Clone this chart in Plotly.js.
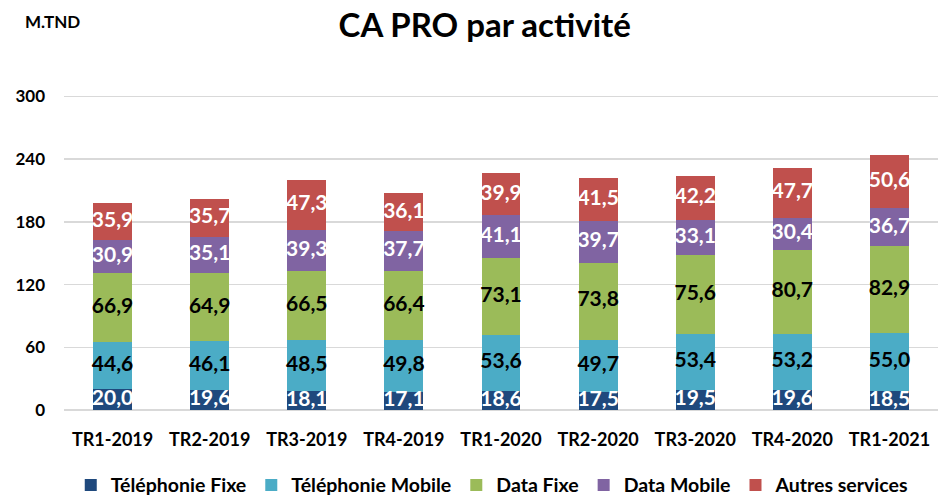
<!DOCTYPE html>
<html>
<head>
<meta charset="utf-8">
<script src="https://cdn.plot.ly/plotly-3.0.1.min.js"></script>
<style>html,body{margin:0;padding:0;background:#fff}#chart{width:943px;height:499px}</style>
</head>
<body>
<div id="chart"></div>
<script>
var categories = ["TR1-2019","TR2-2019","TR3-2019","TR4-2019","TR1-2020","TR2-2020","TR3-2020","TR4-2020","TR1-2021"];
var telFixe   = [20.0,19.6,18.1,17.1,18.6,17.5,19.5,19.6,18.5];
var telMobile = [44.6,46.1,48.5,49.8,53.6,49.7,53.4,53.2,55.0];
var dataFixe  = [66.9,64.9,66.5,66.4,73.1,73.8,75.6,80.7,82.9];
var dataMobile= [30.9,35.1,39.3,37.7,41.1,39.7,33.1,30.4,36.7];
var autres    = [35.9,35.7,47.3,36.1,39.9,41.5,42.2,47.7,50.6];
var seriesNames = ["Téléphonie Fixe","Téléphonie Mobile","Data Fixe","Data Mobile","Autres services"];
var yTicks = [0,60,120,180,240,300];

var series = [telFixe, telMobile, dataFixe, dataMobile, autres];
var colors = ["#1F497D","#4BACC6","#9BBB59","#8064A2","#C0504D"];
var textColors = ["#ffffff","#000000","#000000","#ffffff","#ffffff"];
var font = "Lato, 'Open Sans', sans-serif";

var traces = [];
series.forEach(function(s,i){
  traces.push({type:"bar", x:categories, y:s, name:seriesNames[i],
    marker:{color:colors[i]}, hoverinfo:"none"});
});
var base = categories.map(function(){return 0;});
series.forEach(function(s,i){
  var mids = s.map(function(v,j){ return base[j] + v/2; });
  base = base.map(function(b,j){ return b + s[j]; });
  traces.push({type:"scatter", mode:"text", x:categories, y:mids,
    text:s.map(function(v){return v.toFixed(1).replace(".",",");}),
    textfont:{family:font, size:21, color:textColors[i], weight:"bold"},
    showlegend:false, hoverinfo:"none", cliponaxis:false});
});

var layout = {
  width:943, height:499,
  paper_bgcolor:"#ffffff", plot_bgcolor:"rgba(0,0,0,0)",
  barmode:"stack", bargap:0.6,
  margin:{l:64, r:5, t:65, b:89, autoexpand:false},
  title:{text:"<b>CA PRO par activité</b>", font:{family:font, size:33, color:"#000"}, x:0.514, xanchor:"center", y:0.948, yanchor:"middle"},
  xaxis:{type:"category", tickfont:{family:font, size:18, color:"#000", weight:"bold"}, ticks:"", ticklabelstandoff:17, showgrid:false, showline:false, zeroline:false, automargin:false},
  yaxis:{range:[0,330], tickvals:yTicks, ticktext:yTicks.map(String), tickfont:{family:font, size:17, color:"#000", weight:"bold"}, automargin:false,
    showgrid:true, gridcolor:"#d9d9d9", gridwidth:1.5, zeroline:true, zerolinecolor:"#d9d9d9", zerolinewidth:1.5, ticks:"", ticklabelstandoff:18},
  showlegend:true,
  legend:{orientation:"h", x:0.49, xanchor:"center", y:-0.218, yanchor:"middle", font:{family:font, size:19.5, color:"#000", weight:"bold"}, itemwidth:20, tracegroupgap:0, traceorder:"normal", bgcolor:"rgba(0,0,0,0)"},
  annotations:[{text:"<b>M.TND</b>", xref:"paper", yref:"paper", x:-0.047, y:1.125, xanchor:"left", yanchor:"middle", showarrow:false, font:{family:font, size:17, color:"#000"}}]
};
Plotly.newPlot("chart", traces, layout, {displayModeBar:false, staticPlot:true});
</script>
</body>
</html>
